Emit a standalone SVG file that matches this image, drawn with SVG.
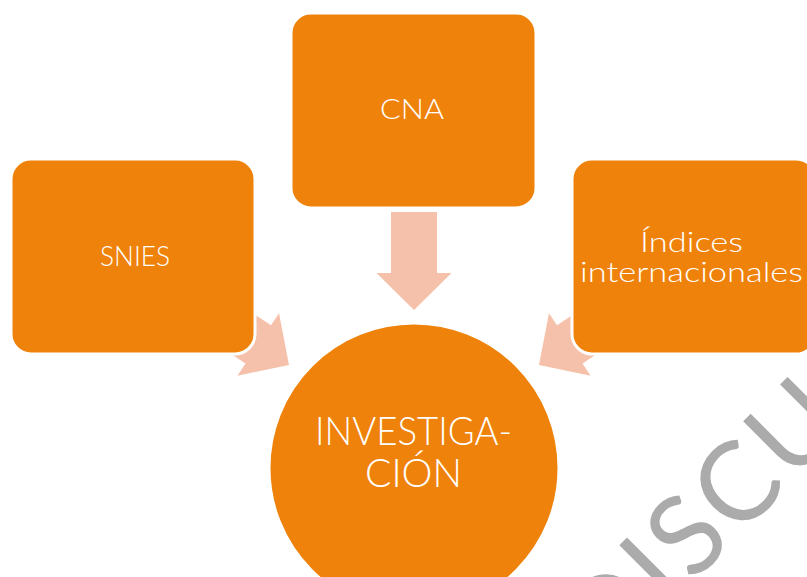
<svg xmlns="http://www.w3.org/2000/svg" width="807" height="577" viewBox="0 0 807 577">
  <style>
    .box { fill: #EF820A; stroke: #FFFFFF; stroke-width: 3; }
    .arrow { fill: #F6C1AA; }
    .lbl { font-family: "Lato", "Liberation Sans", sans-serif; fill: #FFFFFF; text-anchor: middle; font-weight: 300; }
    .wm { font-family: "Lato", "Liberation Sans", sans-serif; fill: #ABABAB; font-size: 110px; font-weight: 400; letter-spacing: 4px; }
  </style>
  <defs>
    <polygon id="blockArrow" points="-98,-23 -37,-23 -37,-37.5 0,0 -37,37.5 -37,23 -98,23"/>
  </defs>
  <rect width="807" height="577" fill="#FFFFFF"/>
  <text class="wm" transform="translate(606,670) rotate(-45)">DISCUS</text>
  <g id="connectors">
    <use href="#blockArrow" class="arrow" transform="translate(414,310) rotate(90)"/>
    <use href="#blockArrow" class="arrow" transform="translate(289,365) rotate(33.7)"/>
    <use href="#blockArrow" class="arrow" transform="translate(539,365) rotate(146.3)"/>
  </g>
  <g id="snies">
    <rect class="box" x="11" y="159" width="244" height="195" rx="20"/>
    <text class="lbl" x="135" y="266" font-size="26.5" textLength="70" lengthAdjust="spacingAndGlyphs">SNIES</text>
  </g>
  <g id="cna">
    <rect class="box" x="291" y="13" width="245" height="195" rx="20"/>
    <text class="lbl" x="412" y="119" font-size="26.5" textLength="64" lengthAdjust="spacingAndGlyphs">CNA</text>
  </g>
  <g id="indices">
    <rect class="box" x="572" y="159" width="244" height="195" rx="20"/>
    <text class="lbl" x="691.5" y="252" font-size="26.5" textLength="103" lengthAdjust="spacingAndGlyphs">Índices</text>
    <text class="lbl" x="691.5" y="282" font-size="26.5" textLength="223" lengthAdjust="spacingAndGlyphs">internacionales</text>
  </g>
  <g id="investigacion">
    <circle class="box" cx="414" cy="468" r="145"/>
    <text class="lbl" x="413.5" y="445" font-size="39" textLength="197" lengthAdjust="spacingAndGlyphs">INVESTIGA-</text>
    <text class="lbl" x="413.5" y="487" font-size="39" textLength="97" lengthAdjust="spacingAndGlyphs">CIÓN</text>
  </g>
</svg>
